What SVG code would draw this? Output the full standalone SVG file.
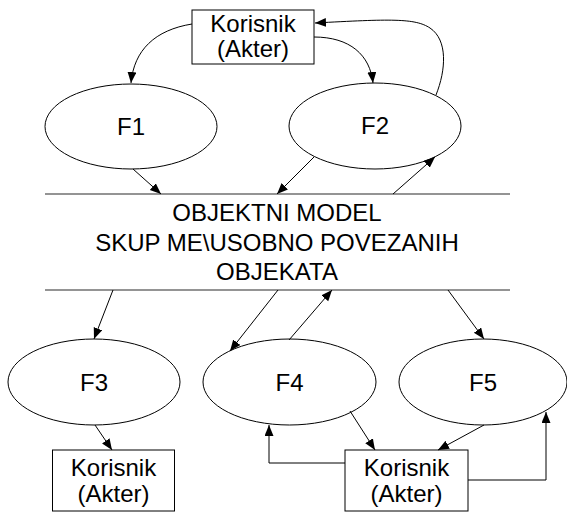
<svg xmlns="http://www.w3.org/2000/svg" width="567" height="512" viewBox="0 0 567 512">
  <style>
    text { font-family: "Liberation Sans", Arial, sans-serif; font-size: 24px; fill: #000; text-anchor: middle; }
    .shape { fill: #fff; stroke: #000; stroke-width: 1; }
    .edge { fill: none; stroke: #000; stroke-width: 1; marker-end: url(#arrow); }
    .band { stroke: #707070; stroke-width: 1.6; }
  </style>
  <defs>
    <marker id="arrow" markerUnits="userSpaceOnUse" markerWidth="12" markerHeight="10" refX="11" refY="4.5" orient="auto">
      <path d="M0,0 L11,4.5 L0,9 Z" fill="#000"/>
    </marker>
  </defs>

  <!-- object model band -->
  <g id="object-model">
    <line class="band" x1="45" y1="194" x2="510" y2="194"/>
    <line class="band" x1="45" y1="290" x2="510" y2="290"/>
    <text x="277" y="221">OBJEKTNI MODEL</text>
    <text x="277" y="251">SKUP ME\USOBNO POVEZANIH</text>
    <text x="277" y="280">OBJEKATA</text>
  </g>

  <g id="actor-top">
    <rect class="shape" x="192" y="10" width="122" height="54"/>
    <text x="253" y="32">Korisnik</text>
    <text x="253" y="57">(Akter)</text>
  </g>

  <g id="f1">
    <ellipse class="shape" cx="131" cy="126.5" rx="86" ry="42.5"/>
    <text x="131" y="135">F1</text>
  </g>

  <g id="f2">
    <ellipse class="shape" cx="375" cy="126" rx="86" ry="43"/>
    <text x="375" y="134">F2</text>
  </g>

  <g id="f3">
    <ellipse class="shape" cx="94" cy="382" rx="86" ry="43"/>
    <text x="94" y="391">F3</text>
  </g>

  <g id="f4">
    <ellipse class="shape" cx="289.5" cy="382" rx="86.5" ry="43"/>
    <text x="289.5" y="391">F4</text>
  </g>

  <g id="f5">
    <ellipse class="shape" cx="483" cy="382" rx="84" ry="43"/>
    <text x="483" y="391">F5</text>
  </g>

  <g id="actor-left">
    <rect class="shape" x="52.5" y="450" width="122" height="61"/>
    <text x="113.5" y="476">Korisnik</text>
    <text x="113.5" y="502">(Akter)</text>
  </g>

  <g id="actor-right">
    <rect class="shape" x="345" y="450" width="123" height="61"/>
    <text x="406.5" y="476">Korisnik</text>
    <text x="406.5" y="502">(Akter)</text>
  </g>

  <g id="connectors">
    <path class="edge" d="M192,24 C155,30 134,50 131,83"/>
    <path class="edge" d="M314,37 C350,37 370,55 373,83"/>
    <path class="edge" d="M436,95 C446,70 448,40 430,28 C415,18 390,19 315,23"/>
    <path class="edge" d="M133,169 L161,194"/>
    <path class="edge" d="M314,157 L277,194"/>
    <path class="edge" d="M393,194 L435,157"/>
    <path class="edge" d="M113,290 L94,339"/>
    <path class="edge" d="M278,290 L230,351"/>
    <path class="edge" d="M289,340 L332,290"/>
    <path class="edge" d="M448,290 L484,339"/>
    <path class="edge" d="M95,425 L112,450"/>
    <path class="edge" d="M350,411 L375,450"/>
    <path class="edge" d="M484,425 L438,450"/>
    <path class="edge" d="M345,463 L269,463 L269,425"/>
    <path class="edge" d="M468,480 L546,480 L546,412"/>
  </g>
</svg>
